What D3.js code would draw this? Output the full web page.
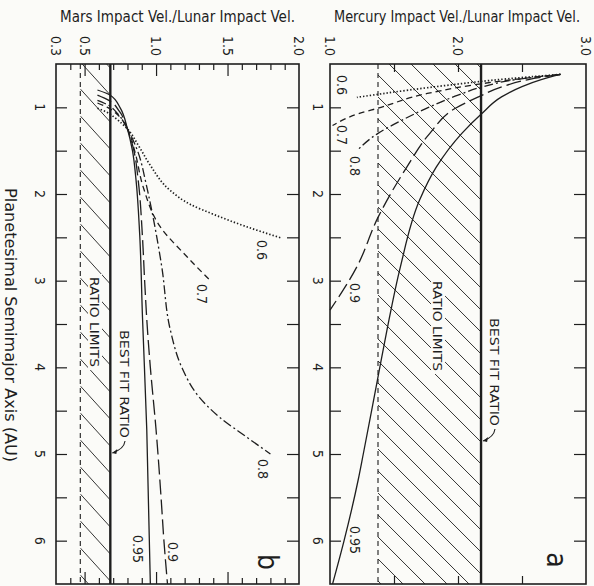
<!DOCTYPE html>
<html>
<head>
<meta charset="utf-8">
<script src="https://d3js.org/d3.v7.min.js"></script>
<style>
  body { margin: 0; background: #fbfbf8; }
  text { font-family: "DejaVu Sans Condensed", "Liberation Sans Narrow", "DejaVu Sans", sans-serif; fill: #1e1e1e; }
</style>
</head>
<body>
<div id="chart"></div>
<script>
var width = 594;
var height = 586;
var ink = "#1e1e1e";

// AU axis runs down the page, shared by both panels
var auTicks = [1, 1.5, 2, 2.5, 3, 3.5, 4, 4.5, 5, 5.5, 6];
var auLabels = [1, 2, 3, 4, 5, 6];

// Mars panel (b) value axis
var marsMinor = [0.4, 0.6, 0.7, 0.8, 0.9, 1.1, 1.2, 1.3, 1.4, 1.6, 1.7, 1.8, 1.9];
var marsMajor = [0.5, 1.0, 1.5];
var marsLabels = ["0.3", "0.5", "1.0", "1.5", "2.0"];
var marsLabelValues = [0.3, 0.5, 1.0, 1.5, 2.0];
var marsBestFit = 0.68;
var marsRatioLimit = 0.47;

// Mercury panel (a) value axis
var mercTicks = [1.5, 2.0, 2.5];
var mercLabels = ["1.0", "2.0", "3.0"];
var mercLabelValues = [1.0, 2.0, 3.0];
var mercBestFit = 2.18;
var mercRatioLimit = 1.375;

// Mercury curves (AU, ratio)
var mercAu06 = [0.62, 0.65, 0.69, 0.74, 0.80, 0.885];
var mercRatio06 = [2.80, 2.55, 2.25, 1.95, 1.62, 1.21];
var mercAu07 = [0.62, 0.66, 0.71, 0.84, 1.01, 1.07, 1.21];
var mercRatio07 = [2.80, 2.55, 2.27, 1.76, 1.375, 1.23, 1.02];
var mercAu08 = [0.62, 0.68, 0.76, 0.86, 1.0, 1.15, 1.30, 1.50];
var mercRatio08 = [2.80, 2.45, 2.20, 2.00, 1.77, 1.56, 1.375, 1.21];
var mercAu09 = [0.62, 0.68, 0.76, 0.88, 1.01, 1.3, 1.69, 2.27, 2.84, 3.34];
var mercRatio09 = [2.80, 2.55, 2.35, 2.16, 1.98, 1.78, 1.60, 1.375, 1.21, 1.0];
var mercAu095 = [0.62, 0.68, 0.76, 0.88, 1.08, 1.3, 1.69, 2.07, 2.84, 3.57, 4.15, 5.0, 5.3, 6.0, 6.5];
var mercRatio095 = [2.80, 2.65, 2.50, 2.34, 2.18, 2.03, 1.83, 1.70, 1.55, 1.445, 1.37, 1.26, 1.22, 1.11, 1.02];

// Mars curves (AU, ratio)
var marsAu06 = [1.01, 1.06, 1.13, 1.25, 1.45, 1.67, 1.96, 2.12, 2.24, 2.37, 2.51];
var marsRatio06 = [0.59, 0.66, 0.72, 0.80, 0.88, 0.96, 1.10, 1.24, 1.41, 1.62, 1.88];
var marsAu07 = [0.95, 1.0, 1.1, 1.25, 1.5, 1.92, 2.38, 2.73, 3.0];
var marsRatio07 = [0.59, 0.66, 0.74, 0.80, 0.85, 0.91, 1.03, 1.22, 1.38];
var marsAu08 = [0.92, 0.97, 1.08, 1.25, 1.5, 1.88, 2.07, 2.84, 3.57, 4.0, 4.34, 4.57, 4.8, 5.0];
var marsRatio08 = [0.59, 0.66, 0.735, 0.80, 0.87, 0.93, 0.955, 1.04, 1.10, 1.18, 1.30, 1.44, 1.63, 1.80];
var marsAu09 = [0.86, 0.92, 1.05, 1.25, 1.5, 1.84, 2.5, 3.0, 3.57, 4.0, 4.72, 5.5, 6.0, 6.5];
var marsRatio09 = [0.59, 0.67, 0.745, 0.80, 0.845, 0.875, 0.905, 0.92, 0.94, 0.96, 1.0, 1.035, 1.055, 1.08];
var marsAu095 = [0.80, 0.86, 1.01, 1.25, 1.5, 1.84, 2.45, 3.42, 4.72, 6.5];
var marsRatio095 = [0.59, 0.68, 0.75, 0.80, 0.835, 0.86, 0.885, 0.905, 0.935, 0.96];

var dashes = { "0.6": "1.4,2", "0.7": "6,4", "0.8": "9,3,2,3", "0.9": "15,5", "0.95": null };

// note: "top" is taken by window.top, so plotTop / plotBottom
var plotTop = 64, plotBottom = 584;
var au = d3.scaleLinear().domain([0.5, 6.5]).range([plotTop, plotBottom]);
var xMars = d3.scaleLinear().domain([0.3, 2.0]).range([56, 299]);
var xMerc = d3.scaleLinear().domain([1.0, 3.0]).range([330, 586]);

var svg = d3.select("#chart").append("svg")
    .attr("width", width)
    .attr("height", height);

/**
 * Pairs up the AU and ratio arrays of one curve.
 */
function toPoints(aus, ratios) {
    return aus.map(function (a, i) { return { a: a, r: ratios[i] }; });
}

var mercSeries = [
    { name: "0.6", points: toPoints(mercAu06, mercRatio06) },
    { name: "0.7", points: toPoints(mercAu07, mercRatio07) },
    { name: "0.8", points: toPoints(mercAu08, mercRatio08) },
    { name: "0.9", points: toPoints(mercAu09, mercRatio09) },
    { name: "0.95", points: toPoints(mercAu095, mercRatio095) }
];
var marsSeries = [
    { name: "0.6", points: toPoints(marsAu06, marsRatio06) },
    { name: "0.7", points: toPoints(marsAu07, marsRatio07) },
    { name: "0.8", points: toPoints(marsAu08, marsRatio08) },
    { name: "0.9", points: toPoints(marsAu09, marsRatio09) },
    { name: "0.95", points: toPoints(marsAu095, marsRatio095) }
];

/**
 * Inward tick marks without labels, from a d3 axis.
 */
function tickAxis(axisFn, scale, values, size, transform) {
    var g = svg.append("g")
        .attr("transform", transform)
        .call(axisFn(scale).tickValues(values).tickSize(size).tickFormat(""));
    g.select(".domain").remove();
    g.selectAll("line").attr("stroke", ink).attr("stroke-width", 1.2);
}

/**
 * Diagonal hatching between the ratio limit and the best fit line.
 */
function drawHatch(x0, x1, step, slope, id) {
    svg.append("clipPath").attr("id", id).append("rect")
        .attr("x", x0).attr("y", plotTop)
        .attr("width", x1 - x0).attr("height", plotBottom - plotTop);
    var span = (x1 - x0) * slope;
    svg.append("g")
        .attr("clip-path", "url(#" + id + ")")
        .selectAll("line")
        .data(d3.range(plotTop - span + 4, plotBottom, step))
        .enter().append("line")
        .attr("x1", x0).attr("y1", function (d) { return d; })
        .attr("x2", x1).attr("y2", function (d) { return d + span; })
        .attr("stroke", ink).attr("stroke-width", 0.9);
}

/**
 * Text turned a quarter turn clockwise, as in the printed figure.
 */
function rotText(x, y, str, size, anchor, len) {
    var t = svg.append("text")
        .attr("transform", "translate(" + x + "," + y + ") rotate(90)")
        .attr("text-anchor", anchor || "middle")
        .attr("font-size", size)
        .text(str);
    if (len) t.attr("textLength", len).attr("lengthAdjust", "spacingAndGlyphs");
    return t;
}

function drawPanel(x, series, bestFit, ratioLimit, hatchStep, hatchSlope, id) {
    var x0 = x(ratioLimit), x1 = x(bestFit);
    drawHatch(x0, x1, hatchStep, hatchSlope, id);

    svg.append("line")
        .attr("x1", x0).attr("x2", x0).attr("y1", plotTop).attr("y2", plotBottom)
        .attr("stroke", ink).attr("stroke-width", 1.1)
        .attr("stroke-dasharray", "5,4");
    svg.append("line")
        .attr("x1", x1).attr("x2", x1).attr("y1", plotTop).attr("y2", plotBottom)
        .attr("stroke", ink).attr("stroke-width", 2.4);

    // AU grows along every curve, so x can be treated as a function of y
    var line = d3.line()
        .x(function (d) { return x(d.r); })
        .y(function (d) { return au(d.a); })
        .curve(d3.curveMonotoneY);

    svg.append("g").selectAll("path")
        .data(series)
        .enter().append("path")
        .attr("d", function (d) { return line(d.points); })
        .attr("fill", "none")
        .attr("stroke", ink)
        .attr("stroke-width", function (d) { return d.name === "0.6" ? 1.7 : 1.3; })
        .attr("stroke-dasharray", function (d) { return dashes[d.name]; });

    svg.append("rect")
        .attr("x", x.range()[0]).attr("y", plotTop)
        .attr("width", x.range()[1] - x.range()[0]).attr("height", plotBottom - plotTop)
        .attr("fill", "none").attr("stroke", ink).attr("stroke-width", 1.6);

    var left = x.range()[0], right = x.range()[1];
    tickAxis(d3.axisRight, au, auTicks, 11, "translate(" + left + ",0)");
    tickAxis(d3.axisLeft, au, auTicks, 12, "translate(" + right + ",0)");
}

// panel b (Mars)
drawPanel(xMars, marsSeries, marsBestFit, marsRatioLimit, 27, 1.1, "hatchB");
tickAxis(d3.axisBottom, xMars, marsMinor, 6, "translate(0," + plotTop + ")");
tickAxis(d3.axisBottom, xMars, marsMajor, 12, "translate(0," + plotTop + ")");
tickAxis(d3.axisTop, xMars, marsMinor, 6, "translate(0," + plotBottom + ")");
tickAxis(d3.axisTop, xMars, marsMajor, 12, "translate(0," + plotBottom + ")");

// panel a (Mercury)
drawPanel(xMerc, mercSeries, mercBestFit, mercRatioLimit, 22, 1.0, "hatchA");
tickAxis(d3.axisBottom, xMerc, mercTicks, 8, "translate(0," + plotTop + ")");
tickAxis(d3.axisTop, xMerc, mercTicks, 8, "translate(0," + plotBottom + ")");

// value tick labels
marsLabelValues.forEach(function (v, i) {
    rotText(xMars(v) - 5, 46, marsLabels[i], 14);
});
mercLabelValues.forEach(function (v, i) {
    rotText(xMerc(v) - 5, 46, mercLabels[i], 14);
});

// AU tick labels, left of each panel
auLabels.forEach(function (v) {
    rotText(35, au(v), String(v), 14);
    rotText(313, au(v), String(v), 14);
});

// axis titles
svg.append("text")
    .attr("x", 60).attr("y", 22)
    .attr("font-size", 15)
    .attr("textLength", 235).attr("lengthAdjust", "spacingAndGlyphs")
    .text("Mars Impact Vel./Lunar Impact Vel.");
svg.append("text")
    .attr("x", 334).attr("y", 22)
    .attr("font-size", 15)
    .attr("textLength", 246).attr("lengthAdjust", "spacingAndGlyphs")
    .text("Mercury Impact Vel./Lunar Impact Vel.");
rotText(5, 325, "Planetesimal  Semimajor  Axis  (AU)", 16, "middle", 274);

// curve labels, positioned in data units
var marsNotes = [
    { t: "0.6", r: 1.706, a: 2.646 },
    { t: "0.7", r: 1.286, a: 3.154 },
    { t: "0.8", r: 1.713, a: 5.173 },
    { t: "0.9", r: 1.084, a: 6.131 },
    { t: "0.95", r: 0.839, a: 6.096 }
];
var mercNotes = [
    { t: "0.6", r: 1.055, a: 0.742 },
    { t: "0.7", r: 1.055, a: 1.319 },
    { t: "0.8", r: 1.156, a: 1.677 },
    { t: "0.9", r: 1.156, a: 3.142 },
    { t: "0.95", r: 1.156, a: 5.992 }
];
marsNotes.forEach(function (d) { rotText(xMars(d.r), au(d.a), d.t, 14); });
mercNotes.forEach(function (d) { rotText(xMerc(d.r), au(d.a), d.t, 14); });

// "RATIO LIMITS" sits on a white patch inside the hatching
function ratioLimitsLabel(x, y) {
    svg.append("rect")
        .attr("x", x - 2).attr("y", y - 48)
        .attr("width", 14).attr("height", 96)
        .attr("fill", "#fbfbf8");
    rotText(x, y, "RATIO LIMITS", 13, "middle", 90);
}
ratioLimitsLabel(xMars(0.538), au(3.477));
ratioLimitsLabel(xMerc(1.805), au(3.523));

// "BEST FIT RATIO" with its hooked pointer
function bestFitLabel(x, y, lineX) {
    rotText(x, y, "BEST FIT RATIO", 13, "middle", 108);
    var yEnd = y + 57;
    svg.append("path")
        .attr("d", "M" + (x + 5) + "," + yEnd + " Q" + (x + 4) + "," + (yEnd + 8) + " " + (lineX + 2) + "," + (yEnd + 12))
        .attr("fill", "none").attr("stroke", ink).attr("stroke-width", 1.1);
    svg.append("path")
        .attr("d", "M" + (lineX + 2) + "," + (yEnd + 12) + " l5,-4 l-1,5 z")
        .attr("fill", ink);
}
bestFitLabel(xMars(0.748), au(4.192), xMars(marsBestFit));
bestFitLabel(xMerc(2.25), au(4.054), xMerc(mercBestFit));

// panel letters
rotText(xMars(1.713), au(6.246), "b", 28);
rotText(xMerc(2.695), au(6.223), "a", 28);
</script>
</body>
</html>
